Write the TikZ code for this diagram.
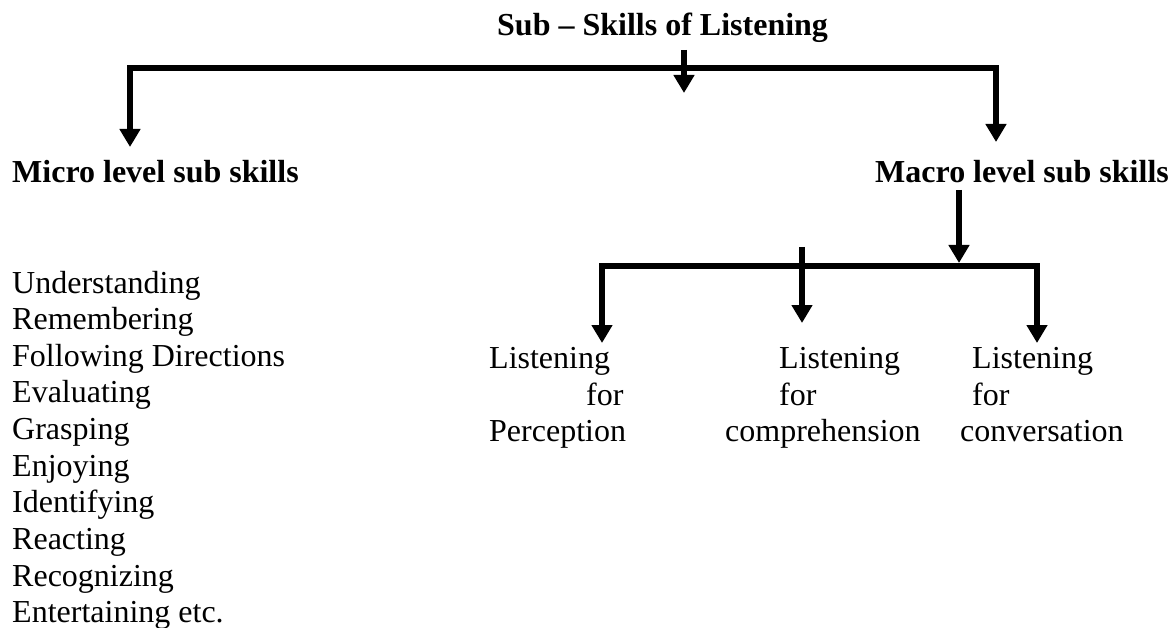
\documentclass[tikz,border=0pt]{standalone}
\usepackage{fontspec}
\setmainfont{Liberation Serif}
\usetikzlibrary{arrows.meta}
\tikzset{
  txt/.style={anchor=base west, inner sep=0pt, font=\fontsize{32}{36.65}\selectfont},
  btxt/.style={txt, font=\fontsize{32}{36.65}\selectfont\bfseries},
  conn/.style={line width=6pt, line join=miter},
  arr/.style={conn, -{Triangle[width=20pt,length=18pt]}},
  darr/.style={conn, {Triangle[width=20pt,length=18pt]}-{Triangle[width=20pt,length=18pt]}}
}
\begin{document}
\begin{tikzpicture}[x=1pt,y=-1pt]
\useasboundingbox (0,0) rectangle (1172,628);
% texts
\node[btxt] (title) at (497,36) {Sub – Skills of Listening};
\node[btxt] (micro) at (12,183) {Micro level sub skills};
\node[btxt] (macro) at (875,183) {Macro level sub skills};
\foreach \t [count=\i] in {Understanding,Remembering,Following Directions,Evaluating,Grasping,Enjoying,Identifying,Reacting,Recognizing,Entertaining etc.}
  \node[txt] (item\i) at (12,{293+(\i-1)*36.65}) {\t};
% macro sub-branches
\node[txt] (pA) at (489,368) {Listening};
\node[txt] (pB) at (586,405) {for};
\node[txt] (pC) at (489,441) {Perception};
\node[txt] (cA) at (779,368) {Listening};
\node[txt] (cB) at (779,405) {for};
\node[txt] (cC) at (725,441) {comprehension};
\node[txt] (vA) at (972,368) {Listening};
\node[txt] (vB) at (972,405) {for};
\node[txt] (vC) at (960,441) {conversation};
% connector coordinates
\coordinate (microTip) at (130,147);
\coordinate (topRight) at (996,68);
\coordinate (macroTip) at (996,142);
\coordinate (midStart) at (684,50);
\coordinate (midTip) at (684,93);
\coordinate (macroOut) at (959,190);
\coordinate (macroJoin) at (959,263);
\coordinate (percTip) at (602,343);
\coordinate (subRight) at (1037,266);
\coordinate (convTip) at (1037,343);
\coordinate (compStart) at (802,247);
\coordinate (compTip) at (802,323);
% connectors
\draw[darr] (microTip) |- (topRight) -- (macroTip);
\draw[arr] (midStart) -- (midTip);
\draw[arr] (macroOut) -- (macroJoin);
\draw[darr] (percTip) |- (subRight) -- (convTip);
\draw[arr] (compStart) -- (compTip);
\end{tikzpicture}
\end{document}
